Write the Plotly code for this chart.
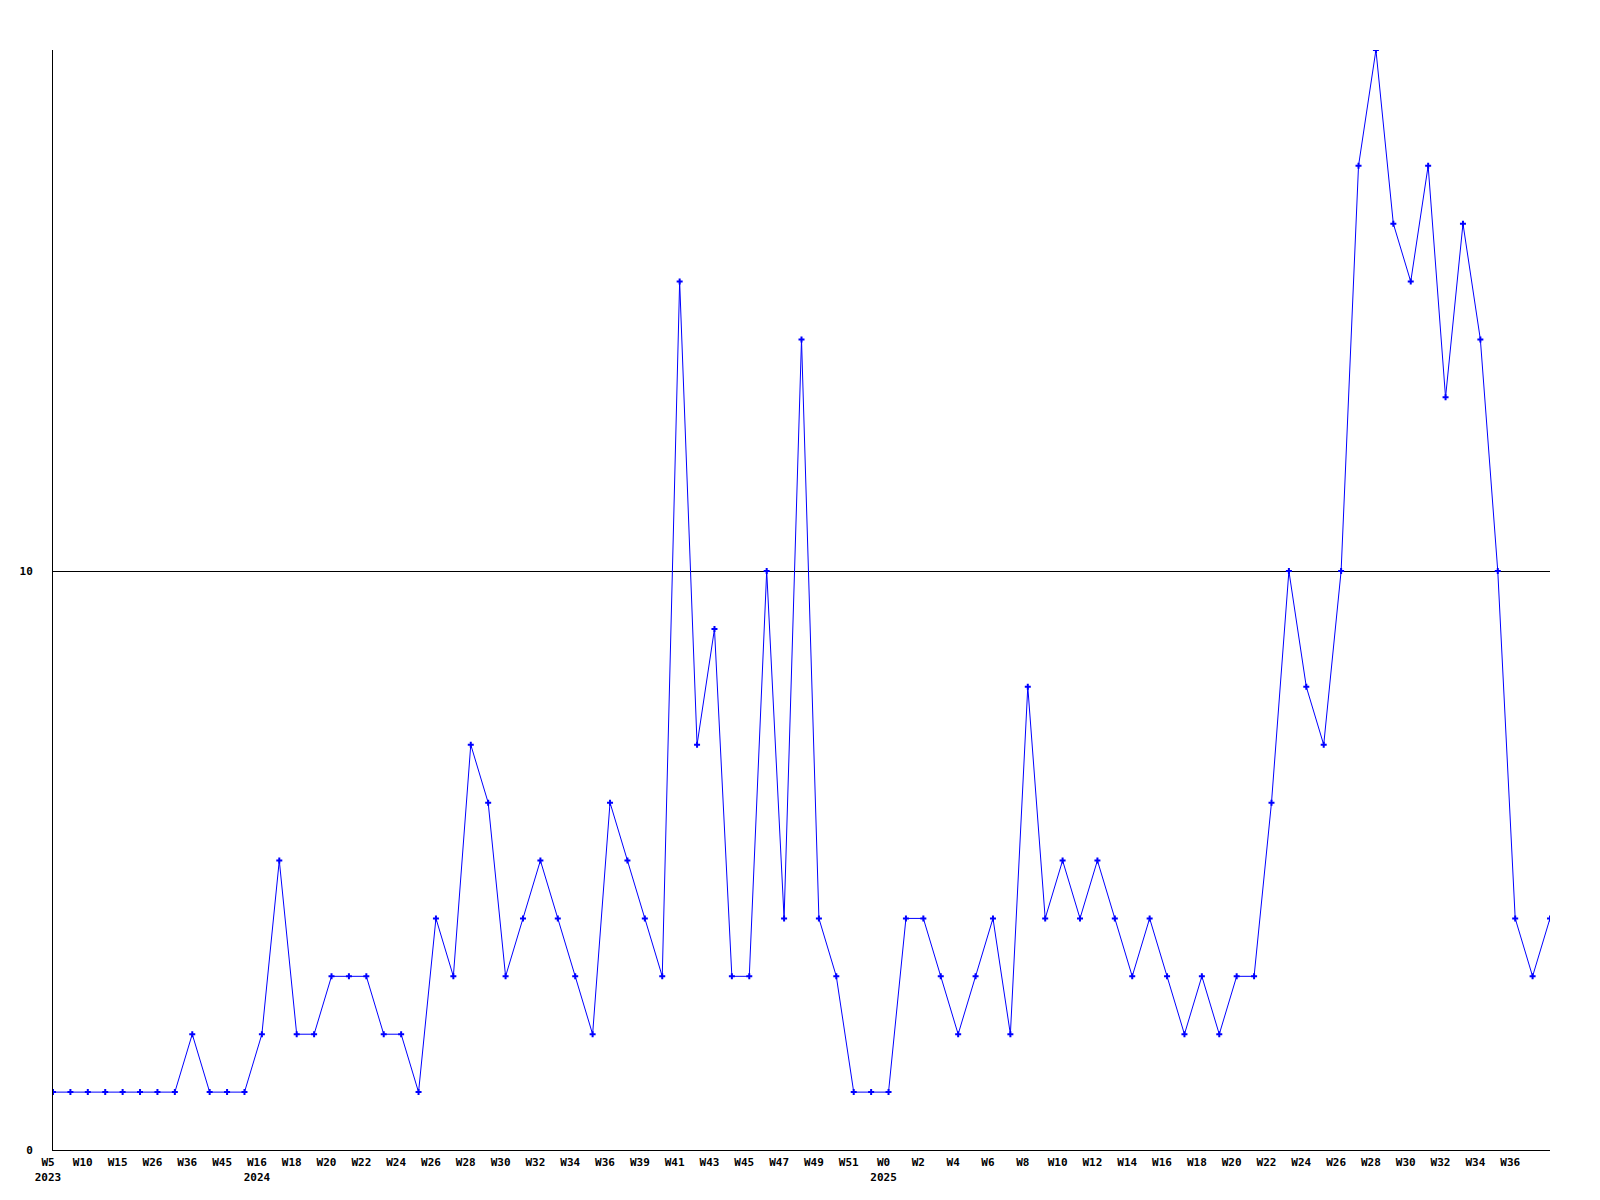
import plotly.graph_objects as go

# semanas (rótulos do eixo x) e contagens
semanas = [
    '2023 W5', '2023 W7', '2023 W10', '2023 W12', '2023 W15', '2023 W21', '2023 W26', '2023 W31',
    '2023 W36', '2023 W40', '2023 W45', '2023 W50',
    '2024 W16', '2024 W17', '2024 W18', '2024 W19', '2024 W20', '2024 W21', '2024 W22', '2024 W23',
    '2024 W24', '2024 W25', '2024 W26', '2024 W27', '2024 W28', '2024 W29', '2024 W30', '2024 W31',
    '2024 W32', '2024 W33', '2024 W34', '2024 W35', '2024 W36', '2024 W38', '2024 W39', '2024 W40',
    '2024 W41', '2024 W42', '2024 W43', '2024 W44', '2024 W45', '2024 W46', '2024 W47', '2024 W48',
    '2024 W49', '2024 W50', '2024 W51', '2024 W52',
    '2025 W0', '2025 W1', '2025 W2', '2025 W3', '2025 W4', '2025 W5', '2025 W6', '2025 W7',
    '2025 W8', '2025 W9', '2025 W10', '2025 W11', '2025 W12', '2025 W13', '2025 W14', '2025 W15',
    '2025 W16', '2025 W17', '2025 W18', '2025 W19', '2025 W20', '2025 W21', '2025 W22', '2025 W23',
    '2025 W24', '2025 W25', '2025 W26', '2025 W27', '2025 W28', '2025 W29', '2025 W30', '2025 W31',
    '2025 W32', '2025 W33', '2025 W34', '2025 W35', '2025 W36', '2025 W37', '2025 W38',
]

contagens = [
    1, 1, 1, 1, 1, 1, 1, 1, 2, 1, 1, 1,
    2, 5, 2, 2, 3, 3, 3, 2, 2, 1, 4, 3, 7, 6, 3, 4, 5, 4, 3, 2, 6, 5, 4, 3,
    15, 7, 9, 3, 3, 10, 4, 14, 4, 3, 1, 1,
    1, 4, 4, 3, 2, 3, 4, 2, 8, 4, 5, 4, 5, 4, 3, 4, 3, 2, 3, 2, 3, 3, 6, 10,
    8, 7, 10, 17, 19, 16, 15, 17, 13, 16, 14, 10, 4, 3, 4,
]

# rótulos: semana, e o ano na primeira semana de cada ano
anos_marcados = {'2023 W5', '2024 W16', '2025 W0'}
tick_vals = semanas[:-1][::2]
tick_text = []
for s in tick_vals:
    ano, sem = s.split(' ')
    tick_text.append(sem + '<br>' + ano if s in anos_marcados else sem)

fig = go.Figure(data=[go.Scatter(
    x=semanas,
    y=contagens,
    mode='lines+markers',
    line=dict(color='#0000ff', width=1),
    marker=dict(symbol='cross', size=5, color='#0000ff'),
)])

fonte = dict(family='DejaVu Sans Mono', size=11, color='black', weight='bold')

# a página tem 8px de margem no body: compensado nas margens
fig.update_layout(
    width=1600, height=1200,
    plot_bgcolor='white',
    paper_bgcolor='white',
    margin=dict(l=42, r=58, t=42, b=58),
    showlegend=False,
    xaxis=dict(
        type='category',
        range=[0, len(semanas) - 1],
        tickmode='array',
        tickvals=tick_vals,
        ticktext=tick_text,
        tickfont=fonte,
        showgrid=False,
        zeroline=False,
        showline=True, linecolor='black', linewidth=1,
        ticks='',
        ticklabelshift=-5,
        ticklabelstandoff=2,
    ),
    yaxis=dict(
        range=[0, 19],
        tickmode='array',
        tickvals=[0, 10],
        tickfont=fonte,
        showgrid=True, gridcolor='black', gridwidth=1,
        zeroline=False,
        showline=True, linecolor='black', linewidth=1,
        ticks='',
        ticklabelstandoff=17,
    ),
)

fig.write_html("out.html")
